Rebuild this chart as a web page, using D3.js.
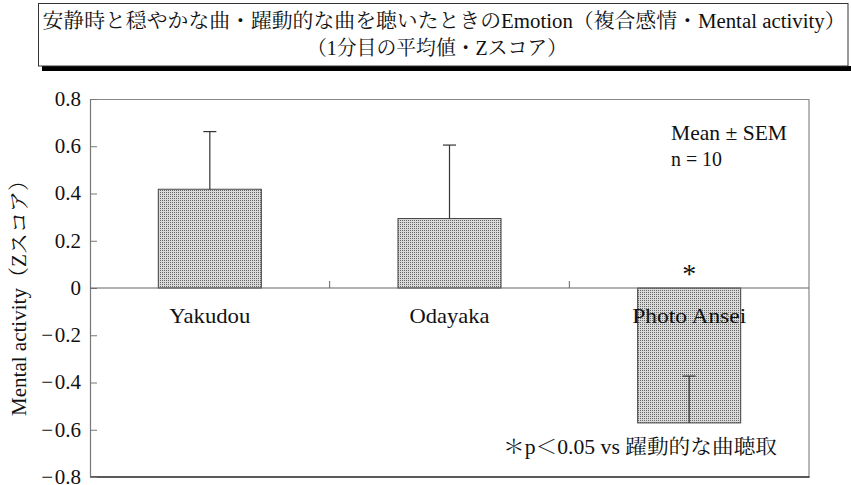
<!DOCTYPE html>
<html><head><meta charset="utf-8">
<script src="https://cdn.jsdelivr.net/npm/d3@7"></script>
<style>body{margin:0;background:#fff}svg{display:block}</style>
</head><body>
<svg id="c" width="851" height="485"></svg>
<script>
const categories = ["Yakudou", "Odayaka", "Photo Ansei"];
const means = [0.418, 0.294, -0.571];
const sems = [0.244, 0.311, 0.198];
const yTicks = [0.8, 0.6, 0.4, 0.2, 0, -0.2, -0.4, -0.6, -0.8];
const yTickLabels = ["0.8", "0.6", "0.4", "0.2", "0", "\u2212\u200a0.2", "\u2212\u200a0.4", "\u2212\u200a0.6", "\u2212\u200a0.8"];
const significant = [false, false, true];
const titleLines = ["安静時と穏やかな曲・躍動的な曲を聴いたときのEmotion（複合感情・Mental activity）", "（1分目の平均値・Zスコア）"];
const yLabel = "Mental activity（Zスコア）";
const noteLines = ["Mean ± SEM", "n = 10"];
const footnote = "＊p＜0.05 vs 躍動的な曲聴取";

const FONT = "'Liberation Serif','Noto Serif CJK JP',serif";
const svg = d3.select("#c");
const m = {left: 90, right: 809, top: 99, bottom: 477};

// pattern
const defs = svg.append("defs");
const pat = defs.append("pattern").attr("id", "dots").attr("patternUnits", "userSpaceOnUse")
  .attr("width", 2).attr("height", 2);
pat.append("rect").attr("width", 2).attr("height", 2).attr("fill", "#dadada");
pat.append("rect").attr("width", 1).attr("height", 1).attr("fill", "#666");

// Title box
svg.append("rect").attr("x", 42).attr("y", 66).attr("width", 809).attr("height", 5).attr("fill", "#000");
svg.append("rect").attr("x", 38.5).attr("y", 3.5).attr("width", 809.5).attr("height", 62.5)
  .attr("fill", "#fff").attr("stroke", "#333").attr("stroke-width", 1);
svg.append("text").attr("x", 444).attr("y", 28).attr("text-anchor", "middle")
  .attr("font-family", FONT).attr("font-size", 20).attr("fill", "#111")
  .attr("textLength", 803).attr("lengthAdjust", "spacingAndGlyphs").text(titleLines[0]);
svg.append("text").attr("x", 437).attr("y", 55).attr("text-anchor", "middle")
  .attr("font-family", FONT).attr("font-size", 20).attr("fill", "#111")
  .attr("textLength", 260).attr("lengthAdjust", "spacingAndGlyphs").text(titleLines[1]);

const x = d3.scaleBand().domain(categories).range([m.left, m.right]).paddingInner(0.57).paddingOuter(0.285);
const y = d3.scaleLinear().domain([-0.8, 0.8]).range([m.bottom, m.top]);

// plot frame
svg.append("line").attr("x1", m.left).attr("x2", m.right).attr("y1", m.top + 0.5).attr("y2", m.top + 0.5).attr("stroke", "#888").attr("stroke-width", 1.2);
svg.append("line").attr("x1", m.right).attr("x2", m.right).attr("y1", m.top).attr("y2", m.bottom).attr("stroke", "#888").attr("stroke-width", 1.2);
svg.append("line").attr("x1", m.left).attr("x2", m.right + 0.5).attr("y1", m.bottom).attr("y2", m.bottom).attr("stroke", "#222").attr("stroke-width", 1.6);

// y axis
const yAxis = d3.axisRight(y).tickValues(yTicks).tickSize(7).tickFormat("");
const ga = svg.append("g").attr("transform", `translate(${m.left},0)`).call(yAxis);
ga.select(".domain").attr("stroke", "#777").attr("stroke-width", 1.2);
ga.selectAll(".tick line").attr("stroke", "#777");
svg.append("g").selectAll("text").data(yTicks).join("text")
  .attr("x", 81).attr("y", d => y(d)).attr("dy", "0.33em").attr("text-anchor", "end")
  .attr("font-family", FONT).attr("font-size", 21).attr("fill", "#111")
  .text((d, i) => yTickLabels[i]);

// y label
svg.append("text").attr("transform", "translate(26,293) rotate(-90)").attr("text-anchor", "middle")
  .attr("font-family", FONT).attr("font-size", 21).attr("fill", "#111")
  .attr("textLength", 246).attr("lengthAdjust", "spacingAndGlyphs").text(yLabel);

// bars
svg.append("g").selectAll("rect").data(categories).join("rect")
  .attr("x", d => x(d)).attr("width", x.bandwidth())
  .attr("y", (d, i) => y(Math.max(0, means[i])))
  .attr("height", (d, i) => Math.abs(y(means[i]) - y(0)))
  .attr("fill", "url(#dots)").attr("stroke", "#444").attr("stroke-width", 1);

// zero line with category ticks
svg.append("line").attr("x1", m.left).attr("x2", m.right).attr("y1", y(0)).attr("y2", y(0)).attr("stroke", "#666").attr("stroke-width", 1.2);
const bounds = categories.slice(1).map(c => x(c) - x.step() * x.paddingInner() / 2);
svg.append("g").selectAll("line").data(bounds).join("line")
  .attr("x1", d => d).attr("x2", d => d).attr("y1", y(0)).attr("y2", y(0) - 7).attr("stroke", "#666");

// error bars
const eg = svg.append("g").attr("stroke", "#333").attr("stroke-width", 1.2);
categories.forEach((c, i) => {
  const cx = x(c) + x.bandwidth() / 2;
  const end = means[i] + sems[i];
  eg.append("line").attr("x1", cx).attr("x2", cx).attr("y1", y(means[i])).attr("y2", y(end));
  eg.append("line").attr("x1", cx - 6.5).attr("x2", cx + 6.5).attr("y1", y(end)).attr("y2", y(end));
});

// category labels
const labelWidths = [81, 80, 114];
svg.append("g").selectAll("text").data(categories).join("text")
  .attr("x", d => x(d) + x.bandwidth() / 2).attr("y", 323).attr("text-anchor", "middle")
  .attr("font-family", FONT).attr("font-size", 21).attr("fill", "#111")
  .attr("textLength", (d, i) => labelWidths[i]).attr("lengthAdjust", "spacingAndGlyphs").text(d => d);

// significance asterisk
svg.append("g").selectAll("text").data(categories.filter((c, i) => significant[i])).join("text")
  .attr("x", d => x(d) + x.bandwidth() / 2).attr("y", 283).attr("text-anchor", "middle")
  .attr("font-family", FONT).attr("font-size", 28).attr("fill", "#111").text("*");

// notes
const noteWidths = [116, 51];
svg.append("g").selectAll("text").data(noteLines).join("text")
  .attr("x", 671).attr("y", (d, i) => 140 + i * 26)
  .attr("font-family", FONT).attr("font-size", 21).attr("fill", "#111")
  .attr("textLength", (d, i) => noteWidths[i]).attr("lengthAdjust", "spacingAndGlyphs").text(d => d);

svg.append("text").attr("x", 503).attr("y", 454).attr("font-family", FONT).attr("font-size", 20)
  .attr("fill", "#111").attr("textLength", 274).attr("lengthAdjust", "spacingAndGlyphs").text(footnote);
</script>
</body></html>
